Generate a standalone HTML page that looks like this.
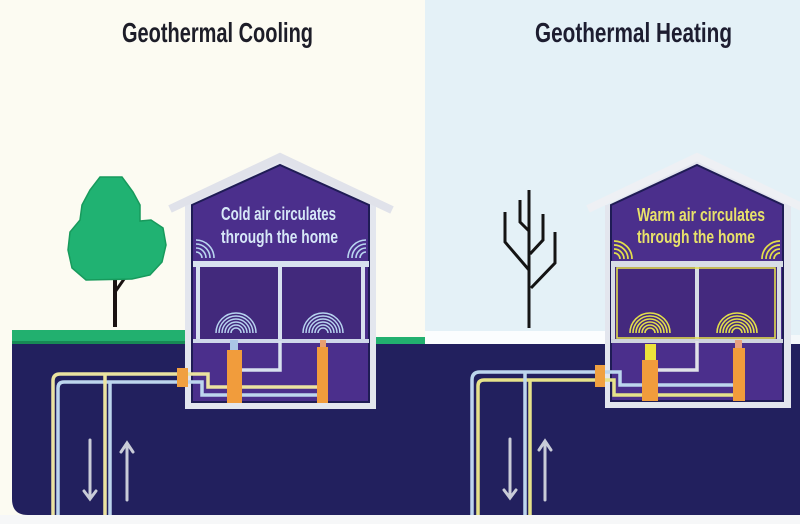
<!DOCTYPE html>
<html><head><meta charset="utf-8"><style>
html,body{margin:0;padding:0;background:#fff;}
svg{display:block;}
</style></head><body>
<svg width="800" height="524" viewBox="0 0 800 524" xmlns="http://www.w3.org/2000/svg">
<!-- backgrounds -->
<rect x="0" y="0" width="425" height="524" fill="#fcfbf2"/>
<rect x="425" y="0" width="375" height="524" fill="#e4f1f7"/>
<rect x="0" y="515" width="800" height="9" fill="#f6f7f8"/>

<!-- titles -->
<text x="122" y="42" font-family="Liberation Sans, sans-serif" font-weight="bold" font-size="28" fill="#1d1d28" textLength="191" lengthAdjust="spacingAndGlyphs">Geothermal Cooling</text>
<text x="535" y="42" font-family="Liberation Sans, sans-serif" font-weight="bold" font-size="28" fill="#1d1d30" textLength="197" lengthAdjust="spacingAndGlyphs">Geothermal Heating</text>

<!-- grass / snow -->
<rect x="12" y="330" width="175" height="14" fill="#22b06f"/>
<rect x="12" y="341" width="175" height="3" fill="#178a55"/>
<rect x="374" y="337" width="51" height="7" fill="#22b06f"/>
<rect x="425" y="331" width="182" height="13" fill="#fbfdfe"/>
<rect x="788" y="335" width="12" height="9" fill="#f4f8fa"/>

<!-- ground -->
<path d="M12,344 H800 V515 H28 Q12,515 12,499 Z" fill="#22205e"/>

<!-- left tree -->
<line x1="115" y1="327" x2="115" y2="280" stroke="#1a1212" stroke-width="4"/>
<line x1="115" y1="292" x2="129" y2="272" stroke="#1a1212" stroke-width="3"/>
<polygon points="100,177 122,177 133,192 140,205 140,221 151,220 163,228 166,245 162,262 150,275 132,279 86,280 72,268 68,250 70,232 80,220 82,205 90,190" fill="#20b272" stroke="#179a5c" stroke-width="1.5"/>

<!-- bare tree -->
<g stroke="#141414" stroke-width="3" fill="none" stroke-linejoin="miter">
<line x1="529" y1="190" x2="529" y2="328"/>
<polyline points="505,212 505,242 529,270"/>
<polyline points="520,200 520,222 529,231"/>
<polyline points="543,214 543,240 530,254"/>
<polyline points="555,232 555,263 531,288"/>
</g>

<!-- ================= LEFT HOUSE ================= -->
<rect x="185" y="205" width="191" height="204" fill="#e3e6ee"/>
<polygon points="185,206 280,160 376,206" fill="#e3e6ee"/>
<polyline points="170,209 280,157 392,210" fill="none" stroke="#e0e2ea" stroke-width="8"/>
<polygon points="192,205 280,165 369,205 369,402 192,402" fill="#4b2f8c" stroke="#1f1c55" stroke-width="2"/>
<!-- rooms -->
<rect x="198" y="265" width="165" height="76" fill="#42297c" stroke="#d8e1ef" stroke-width="4"/>
<rect x="193" y="261" width="176" height="6" fill="#d8e1ef"/>
<line x1="280" y1="265" x2="280" y2="341" stroke="#d8e1ef" stroke-width="4"/>
<rect x="193" y="339" width="176" height="4" fill="#cfd8ea"/>
<!-- gable text -->
<text x="221" y="220" font-family="Liberation Sans, sans-serif" font-weight="bold" font-size="18" fill="#d6e7f7" textLength="115" lengthAdjust="spacingAndGlyphs">Cold air circulates</text>
<text x="221" y="243" font-family="Liberation Sans, sans-serif" font-weight="bold" font-size="18" fill="#d6e7f7" textLength="117" lengthAdjust="spacingAndGlyphs">through the home</text>
<!-- corner fans -->
<g fill="none" stroke="#b9d6f0" stroke-width="1.6">
<path d="M196,252 A6,6 0 0 1 202,258"/><path d="M196,248 A10,10 0 0 1 206,258"/><path d="M196,244 A14,14 0 0 1 210,258"/><path d="M196,240 A18,18 0 0 1 214,258"/>
<path d="M366,252 A6,6 0 0 0 360,258"/><path d="M366,248 A10,10 0 0 0 356,258"/><path d="M366,244 A14,14 0 0 0 352,258"/><path d="M366,240 A18,18 0 0 0 348,258"/>
</g>
<!-- room fans -->
<g fill="none" stroke="#b7d3f0" stroke-width="1.5">
<path d="M231,333 A5,5 0 0 1 241,333"/><path d="M228,333 A8,8 0 0 1 244,333"/><path d="M225,333 A11,11 0 0 1 247,333"/><path d="M222,333 A14,14 0 0 1 250,333"/><path d="M219,333 A17,17 0 0 1 253,333"/><path d="M216,333 A20,20 0 0 1 256,333"/>
<path d="M318,333 A5,5 0 0 1 328,333"/><path d="M315,333 A8,8 0 0 1 331,333"/><path d="M312,333 A11,11 0 0 1 334,333"/><path d="M309,333 A14,14 0 0 1 337,333"/><path d="M306,333 A17,17 0 0 1 340,333"/><path d="M303,333 A20,20 0 0 1 343,333"/>
</g>
<!-- pipes left -->
<g fill="none" stroke-width="3.5">
<path d="M53,515 V381 Q53,374 60,374 H208 V387 H322" stroke="#ebe3a0"/>
<path d="M58,515 V388 Q58,382 64,382 H202 V395 H322" stroke="#bdd6ee"/>
<path d="M105,374 V515" stroke="#ebe3a0"/>
<path d="M110,382 V515" stroke="#bdd6ee"/>
<path d="M240,370 H280 V341" stroke="#d8e1ef"/>
</g>
<rect x="230" y="340" width="8" height="12" fill="#aac6e6"/>
<rect x="227" y="350" width="15" height="53" fill="#f19c3c"/>
<rect x="320" y="340" width="6" height="9" fill="#e9a070"/>
<rect x="317" y="347" width="11" height="56" fill="#f19c3c"/>
<rect x="177" y="368" width="11" height="19" fill="#f0a040"/>
<!-- arrows left -->
<g fill="none" stroke="#c9ccd8" stroke-width="3" stroke-linecap="round">
<line x1="90" y1="440" x2="90" y2="498"/><polyline points="84,491 90,499 96,491"/>
<line x1="127" y1="445" x2="127" y2="500"/><polyline points="121,452 127,443 133,452"/>
</g>

<!-- ================= RIGHT HOUSE ================= -->
<rect x="605" y="205" width="186" height="203" fill="#e3e6ee"/>
<polygon points="605,206 697,161 791,206" fill="#e3e6ee"/>
<polyline points="588,209 697,157 806,209" fill="none" stroke="#eef0f4" stroke-width="8"/>
<polygon points="611,205 697,165 783,205 783,401 611,401" fill="#4b2f8c" stroke="#1f1c55" stroke-width="2"/>
<rect x="613" y="265" width="166" height="76" fill="#44297e" stroke="#d8dde6" stroke-width="4"/>
<rect x="611" y="261" width="172" height="6" fill="#d8dde6"/>
<line x1="697" y1="265" x2="697" y2="341" stroke="#d8dde6" stroke-width="4"/>
<rect x="617" y="268" width="158" height="70" fill="none" stroke="#e2dc4e" stroke-width="1.6"/>
<rect x="611" y="339" width="172" height="4" fill="#cfd4de"/>
<text x="637" y="221" font-family="Liberation Sans, sans-serif" font-weight="bold" font-size="18" fill="#e8e26a" textLength="128" lengthAdjust="spacingAndGlyphs">Warm air circulates</text>
<text x="637" y="243" font-family="Liberation Sans, sans-serif" font-weight="bold" font-size="18" fill="#e8e26a" textLength="118" lengthAdjust="spacingAndGlyphs">through the home</text>
<g fill="none" stroke="#e3df4a" stroke-width="1.7">
<path d="M614,253 A6,6 0 0 1 620,259"/><path d="M614,249 A10,10 0 0 1 624,259"/><path d="M614,245 A14,14 0 0 1 628,259"/><path d="M614,241 A18,18 0 0 1 632,259"/>
<path d="M780,253 A6,6 0 0 0 774,259"/><path d="M780,249 A10,10 0 0 0 770,259"/><path d="M780,245 A14,14 0 0 0 766,259"/><path d="M780,241 A18,18 0 0 0 762,259"/>
</g>
<g fill="none" stroke="#e3df4a" stroke-width="1.6">
<path d="M645,333 A5,5 0 0 1 655,333"/><path d="M642,333 A8,8 0 0 1 658,333"/><path d="M639,333 A11,11 0 0 1 661,333"/><path d="M636,333 A14,14 0 0 1 664,333"/><path d="M633,333 A17,17 0 0 1 667,333"/><path d="M630,333 A20,20 0 0 1 670,333"/>
<path d="M732,333 A5,5 0 0 1 742,333"/><path d="M729,333 A8,8 0 0 1 745,333"/><path d="M726,333 A11,11 0 0 1 748,333"/><path d="M723,333 A14,14 0 0 1 751,333"/><path d="M720,333 A17,17 0 0 1 754,333"/><path d="M717,333 A20,20 0 0 1 757,333"/>
</g>
<!-- pipes right -->
<g fill="none" stroke-width="3.5">
<path d="M472,515 V380 Q472,372 480,372 H620 V385 H735" stroke="#bdd6ee"/>
<path d="M478,515 V386 Q478,380 484,380 H614 V395 H735" stroke="#e6e28a"/>
<path d="M525,372 V515" stroke="#bdd6ee"/>
<path d="M530,380 V515" stroke="#e6e28a"/>
<path d="M656,370 H697 V341" stroke="#e0e2e8"/>
</g>
<rect x="645" y="344" width="11" height="18" fill="#ece23c"/>
<rect x="642" y="360" width="16" height="41" fill="#f19c3c"/>
<rect x="735" y="340" width="7" height="10" fill="#e9a080"/>
<rect x="733" y="348" width="12" height="53" fill="#f19c3c"/>
<rect x="595" y="365" width="10" height="22" fill="#f0a040"/>
<g fill="none" stroke="#c9ccd8" stroke-width="3" stroke-linecap="round">
<line x1="510" y1="439" x2="510" y2="497"/><polyline points="504,490 510,498 516,490"/>
<line x1="545" y1="443" x2="545" y2="500"/><polyline points="539,450 545,441 551,450"/>
</g>
</svg>
</body></html>
